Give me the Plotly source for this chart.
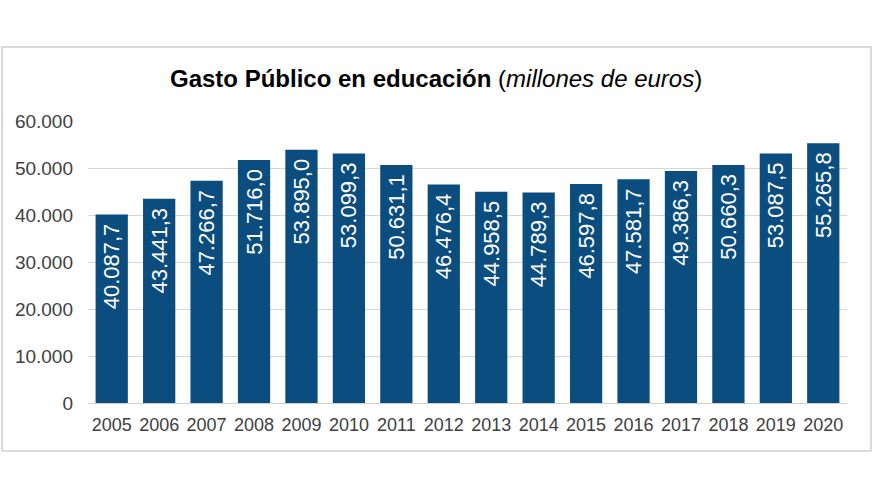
import plotly.graph_objects as go

years = [str(y) for y in range(2005, 2021)]
gasto = [40087.7, 43441.3, 47266.7, 51716.0, 53895.0, 53099.3, 50631.1, 46476.4,
         44958.5, 44789.3, 46597.8, 47581.7, 49386.3, 50660.3, 53087.5, 55265.8]
y_ticks = [0, 10000, 20000, 30000, 40000, 50000, 60000]

W, H = 875, 500
L, R, T, B = 88, 28, 121, 97
pw, ph = W - L - R, H - T - B

def px(x):
    return (x - L) / pw

def py(y):
    return (H - B - y) / ph

fig = go.Figure(go.Bar(
    x=years, y=gasto,
    marker=dict(color="#0b4d7e", line=dict(width=0)),
    width=0.68,
    texttemplate="%{y:,.1f}\u00a0",
    textposition="inside",
    insidetextanchor="end",
    textangle=-90,
    textfont=dict(color="white", size=22, family="Liberation Sans, Arial"),
    hoverinfo="skip",
))

fig.update_layout(
    width=W, height=H,
    margin=dict(l=L, r=R, t=T, b=B, autoexpand=False),
    paper_bgcolor="white", plot_bgcolor="white",
    separators=",.",
    font=dict(family="Liberation Sans, Arial", color="#404040"),
    showlegend=False,
    bargap=0.32,
    xaxis=dict(
        type="category", showgrid=False, showline=True, linecolor="#d0d0d0",
        linewidth=1, ticks="", tickfont=dict(size=18, color="#404040"),
        ticklabelstandoff=5,
    ),
    yaxis=dict(
        range=[0, 60000], tickvals=y_ticks, tickformat=",.0f",
        showgrid=True, gridcolor="#d6d6d6", gridwidth=1, zeroline=False,
        showline=False, ticks="", tickfont=dict(size=19, color="#404040"),
        ticklabelstandoff=14,
    ),
    shapes=[dict(
        type="rect", xref="paper", yref="paper",
        x0=px(2), x1=px(871), y0=py(451), y1=py(47),
        line=dict(color="#d0d0d0", width=1.5), fillcolor="rgba(0,0,0,0)",
        layer="below",
    )],
    annotations=[dict(
        text="<b>Gasto Público en educación</b> (<i>millones de euros</i>)",
        xref="paper", yref="paper", x=px(436), y=py(79),
        xanchor="center", yanchor="middle", showarrow=False,
        font=dict(size=24, color="#000000", family="Liberation Sans, Arial"),
    )],
)

fig.write_html("out.html", config={"displayModeBar": False},
               post_script="document.body.style.margin='0';")
